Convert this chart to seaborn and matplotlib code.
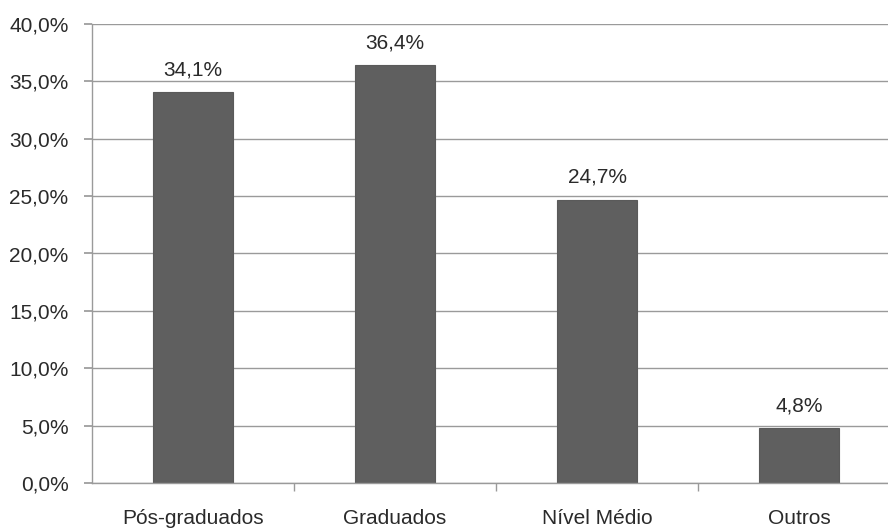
import matplotlib
matplotlib.use("Agg")
import matplotlib.pyplot as plt
import seaborn as sns
import pandas as pd
from matplotlib.ticker import FuncFormatter, MultipleLocator

categories = ["Pós-graduados", "Graduados", "Nível Médio", "Outros"]
values = [34.1, 36.4, 24.7, 4.8]

sns.set_theme(style="white")
plt.rcParams['font.family'] = ['Liberation Sans', 'DejaVu Sans']

df = pd.DataFrame({"cat": categories, "val": values})

fig = plt.figure(figsize=(8.88, 5.29), dpi=100)
ax = fig.add_axes([92/888, 46/529, 808/888, 459/529])

sns.barplot(data=df, x="cat", y="val", color="#5f5f5f", width=0.4,
            saturation=1, ax=ax, edgecolor="#5a5a5a", linewidth=0.8)

ax.set_ylim(0, 40)
ax.set_xlim(-0.5, 3.5)
ax.yaxis.set_major_locator(MultipleLocator(5))
ax.yaxis.set_major_formatter(FuncFormatter(lambda v, p: f"{v:.1f}%".replace(".", ",")))
ax.grid(axis="y", color="#9a9a9a", linewidth=1.0)
ax.set_axisbelow(True)
for s in ["top", "right"]:
    ax.spines[s].set_visible(False)
for s in ["left", "bottom"]:
    ax.spines[s].set_color("#9a9a9a")
    ax.spines[s].set_linewidth(1.0)

ax.set_xlabel("")
ax.set_ylabel("")
ax.tick_params(axis="y", left=True, length=6, color="#9a9a9a", pad=11,
               labelsize=15, labelcolor="#2a2a2a")
ax.tick_params(axis="x", bottom=False, length=0, pad=19,
               labelsize=15, labelcolor="#2a2a2a")
# minor ticks at category boundaries
ax.set_xticks([0.5, 1.5, 2.5], minor=True)
ax.tick_params(axis="x", which="minor", bottom=True, length=6, color="#9a9a9a")

for i, v in enumerate(values):
    ax.text(i, v + 1.1, f"{v:.1f}%".replace(".", ","), ha="center", va="bottom",
            fontsize=15, color="#2a2a2a")

fig.savefig("out.png", dpi=100)
